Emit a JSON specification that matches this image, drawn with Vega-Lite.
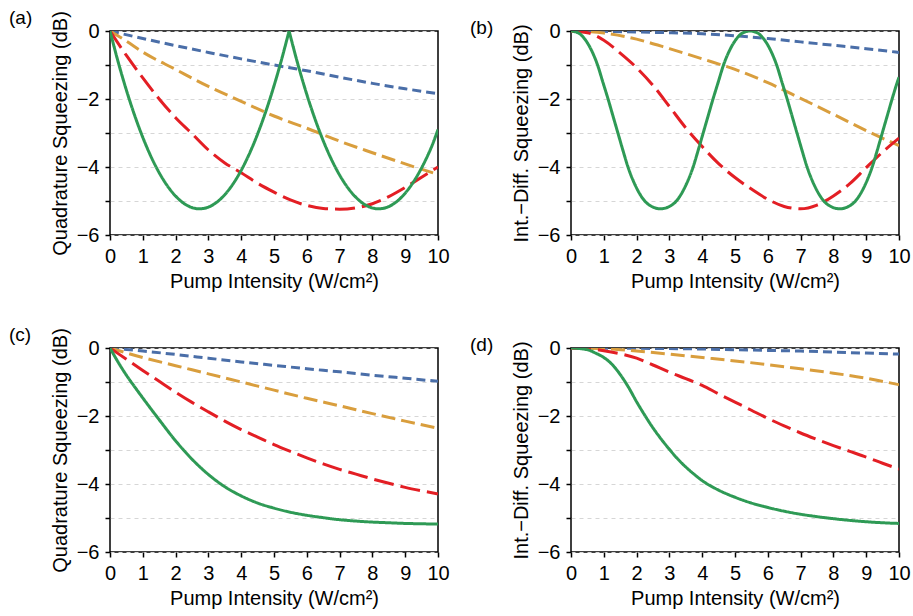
{
"$schema": "https://vega.github.io/schema/vega-lite/v6.json",
"padding": {"left": 8, "top": 7, "right": 2, "bottom": 2},
"columns": 2,
"spacing": {"row": 113, "column": 133},
"bounds": "flush",
"data": {"values": [
{"panel":"a","series":1,"x":0,"y":0},{"panel":"a","series":1,"x":1,"y":-0.22},{"panel":"a","series":1,"x":2,"y":-0.43},{"panel":"a","series":1,"x":3,"y":-0.63},{"panel":"a","series":1,"x":4,"y":-0.82},{"panel":"a","series":1,"x":5,"y":-1.0},{"panel":"a","series":1,"x":6,"y":-1.17},{"panel":"a","series":1,"x":7,"y":-1.36},{"panel":"a","series":1,"x":8,"y":-1.54},{"panel":"a","series":1,"x":9,"y":-1.7},{"panel":"a","series":1,"x":10,"y":-1.84},
{"panel":"a","series":2,"x":0,"y":0},{"panel":"a","series":2,"x":0.5,"y":-0.3},{"panel":"a","series":2,"x":1,"y":-0.62},{"panel":"a","series":2,"x":2,"y":-1.13},{"panel":"a","series":2,"x":3,"y":-1.63},{"panel":"a","series":2,"x":4,"y":-2.07},{"panel":"a","series":2,"x":5,"y":-2.5},{"panel":"a","series":2,"x":6,"y":-2.86},{"panel":"a","series":2,"x":7,"y":-3.24},{"panel":"a","series":2,"x":8,"y":-3.58},{"panel":"a","series":2,"x":9,"y":-3.91},{"panel":"a","series":2,"x":10,"y":-4.22},
{"panel":"a","series":3,"x":0,"y":0},{"panel":"a","series":3,"x":0.5,"y":-0.72},{"panel":"a","series":3,"x":1,"y":-1.38},{"panel":"a","series":3,"x":1.5,"y":-2.0},{"panel":"a","series":3,"x":2,"y":-2.55},{"panel":"a","series":3,"x":2.5,"y":-3.02},{"panel":"a","series":3,"x":3,"y":-3.5},{"panel":"a","series":3,"x":3.5,"y":-3.88},{"panel":"a","series":3,"x":4,"y":-4.17},{"panel":"a","series":3,"x":4.5,"y":-4.48},{"panel":"a","series":3,"x":5,"y":-4.74},{"panel":"a","series":3,"x":5.5,"y":-4.97},{"panel":"a","series":3,"x":6,"y":-5.13},{"panel":"a","series":3,"x":6.5,"y":-5.22},{"panel":"a","series":3,"x":7,"y":-5.24},{"panel":"a","series":3,"x":7.5,"y":-5.2},{"panel":"a","series":3,"x":8,"y":-5.08},{"panel":"a","series":3,"x":8.5,"y":-4.87},{"panel":"a","series":3,"x":9,"y":-4.6},{"panel":"a","series":3,"x":9.5,"y":-4.3},{"panel":"a","series":3,"x":10,"y":-4.0},
{"panel":"a","series":4,"x":0,"y":0},{"panel":"a","series":4,"x":0.273,"y":-0.994},{"panel":"a","series":4,"x":0.546,"y":-1.883},{"panel":"a","series":4,"x":0.819,"y":-2.667},{"panel":"a","series":4,"x":1.092,"y":-3.347},{"panel":"a","series":4,"x":1.365,"y":-3.923},{"panel":"a","series":4,"x":1.638,"y":-4.393},{"panel":"a","series":4,"x":1.911,"y":-4.759},{"panel":"a","series":4,"x":2.184,"y":-5.021},{"panel":"a","series":4,"x":2.457,"y":-5.178},{"panel":"a","series":4,"x":2.73,"y":-5.23},{"panel":"a","series":4,"x":3.003,"y":-5.178},{"panel":"a","series":4,"x":3.276,"y":-5.021},{"panel":"a","series":4,"x":3.549,"y":-4.759},{"panel":"a","series":4,"x":3.822,"y":-4.393},{"panel":"a","series":4,"x":4.095,"y":-3.923},{"panel":"a","series":4,"x":4.368,"y":-3.347},{"panel":"a","series":4,"x":4.641,"y":-2.667},{"panel":"a","series":4,"x":4.914,"y":-1.883},{"panel":"a","series":4,"x":5.187,"y":-0.994},{"panel":"a","series":4,"x":5.46,"y":0},
{"panel":"a","series":5,"x":5.46,"y":0},{"panel":"a","series":5,"x":5.733,"y":-0.994},{"panel":"a","series":5,"x":6.006,"y":-1.883},{"panel":"a","series":5,"x":6.279,"y":-2.667},{"panel":"a","series":5,"x":6.552,"y":-3.347},{"panel":"a","series":5,"x":6.825,"y":-3.923},{"panel":"a","series":5,"x":7.098,"y":-4.393},{"panel":"a","series":5,"x":7.371,"y":-4.759},{"panel":"a","series":5,"x":7.644,"y":-5.021},{"panel":"a","series":5,"x":7.917,"y":-5.178},{"panel":"a","series":5,"x":8.19,"y":-5.23},{"panel":"a","series":5,"x":8.463,"y":-5.178},{"panel":"a","series":5,"x":8.736,"y":-5.021},{"panel":"a","series":5,"x":9.009,"y":-4.759},{"panel":"a","series":5,"x":9.282,"y":-4.393},{"panel":"a","series":5,"x":9.555,"y":-3.923},{"panel":"a","series":5,"x":9.828,"y":-3.347},{"panel":"a","series":5,"x":10,"y":-2.9},
{"panel":"b","series":1,"x":0,"y":0},{"panel":"b","series":1,"x":1,"y":-0.01},{"panel":"b","series":1,"x":2,"y":-0.03},{"panel":"b","series":1,"x":3,"y":-0.05},{"panel":"b","series":1,"x":4,"y":-0.08},{"panel":"b","series":1,"x":5,"y":-0.14},{"panel":"b","series":1,"x":6,"y":-0.22},{"panel":"b","series":1,"x":7,"y":-0.32},{"panel":"b","series":1,"x":8,"y":-0.42},{"panel":"b","series":1,"x":9,"y":-0.52},{"panel":"b","series":1,"x":10,"y":-0.63},
{"panel":"b","series":2,"x":0,"y":0},{"panel":"b","series":2,"x":1,"y":-0.06},{"panel":"b","series":2,"x":2,"y":-0.24},{"panel":"b","series":2,"x":3,"y":-0.52},{"panel":"b","series":2,"x":4,"y":-0.82},{"panel":"b","series":2,"x":5,"y":-1.13},{"panel":"b","series":2,"x":6,"y":-1.52},{"panel":"b","series":2,"x":7,"y":-1.98},{"panel":"b","series":2,"x":8,"y":-2.45},{"panel":"b","series":2,"x":9,"y":-2.93},{"panel":"b","series":2,"x":10,"y":-3.37},
{"panel":"b","series":3,"x":0,"y":0},{"panel":"b","series":3,"x":0.5,"y":-0.05},{"panel":"b","series":3,"x":1,"y":-0.27},{"panel":"b","series":3,"x":1.5,"y":-0.65},{"panel":"b","series":3,"x":2,"y":-1.08},{"panel":"b","series":3,"x":2.5,"y":-1.6},{"panel":"b","series":3,"x":3,"y":-2.22},{"panel":"b","series":3,"x":3.5,"y":-2.85},{"panel":"b","series":3,"x":4,"y":-3.4},{"panel":"b","series":3,"x":4.5,"y":-3.9},{"panel":"b","series":3,"x":5,"y":-4.31},{"panel":"b","series":3,"x":5.5,"y":-4.65},{"panel":"b","series":3,"x":6,"y":-4.95},{"panel":"b","series":3,"x":6.5,"y":-5.16},{"panel":"b","series":3,"x":7,"y":-5.23},{"panel":"b","series":3,"x":7.5,"y":-5.12},{"panel":"b","series":3,"x":8,"y":-4.85},{"panel":"b","series":3,"x":8.5,"y":-4.49},{"panel":"b","series":3,"x":9,"y":-4.02},{"panel":"b","series":3,"x":9.5,"y":-3.56},{"panel":"b","series":3,"x":10,"y":-3.15},
{"panel":"b","series":4,"x":0,"y":0},{"panel":"b","series":4,"x":0.23,"y":-0.06},{"panel":"b","series":4,"x":0.43,"y":-0.25},{"panel":"b","series":4,"x":0.63,"y":-0.58},{"panel":"b","series":4,"x":0.81,"y":-1.0},{"panel":"b","series":4,"x":0.97,"y":-1.5},{"panel":"b","series":4,"x":1.13,"y":-2.0},{"panel":"b","series":4,"x":1.28,"y":-2.5},{"panel":"b","series":4,"x":1.43,"y":-3.0},{"panel":"b","series":4,"x":1.58,"y":-3.5},{"panel":"b","series":4,"x":1.73,"y":-3.98},{"panel":"b","series":4,"x":1.98,"y":-4.58},{"panel":"b","series":4,"x":2.23,"y":-4.98},{"panel":"b","series":4,"x":2.48,"y":-5.17},{"panel":"b","series":4,"x":2.73,"y":-5.23},{"panel":"b","series":4,"x":2.98,"y":-5.17},{"panel":"b","series":4,"x":3.23,"y":-4.98},{"panel":"b","series":4,"x":3.48,"y":-4.58},{"panel":"b","series":4,"x":3.73,"y":-3.98},{"panel":"b","series":4,"x":3.88,"y":-3.5},{"panel":"b","series":4,"x":4.03,"y":-3.0},{"panel":"b","series":4,"x":4.18,"y":-2.5},{"panel":"b","series":4,"x":4.33,"y":-2.0},{"panel":"b","series":4,"x":4.49,"y":-1.5},{"panel":"b","series":4,"x":4.65,"y":-1.0},{"panel":"b","series":4,"x":4.83,"y":-0.58},{"panel":"b","series":4,"x":5.03,"y":-0.25},{"panel":"b","series":4,"x":5.23,"y":-0.06},{"panel":"b","series":4,"x":5.46,"y":0},{"panel":"b","series":4,"x":5.69,"y":-0.06},{"panel":"b","series":4,"x":5.89,"y":-0.25},{"panel":"b","series":4,"x":6.09,"y":-0.58},{"panel":"b","series":4,"x":6.27,"y":-1.0},{"panel":"b","series":4,"x":6.43,"y":-1.5},{"panel":"b","series":4,"x":6.59,"y":-2.0},{"panel":"b","series":4,"x":6.74,"y":-2.5},{"panel":"b","series":4,"x":6.89,"y":-3.0},{"panel":"b","series":4,"x":7.04,"y":-3.5},{"panel":"b","series":4,"x":7.19,"y":-3.98},{"panel":"b","series":4,"x":7.44,"y":-4.58},{"panel":"b","series":4,"x":7.69,"y":-4.98},{"panel":"b","series":4,"x":7.94,"y":-5.17},{"panel":"b","series":4,"x":8.19,"y":-5.23},{"panel":"b","series":4,"x":8.44,"y":-5.17},{"panel":"b","series":4,"x":8.69,"y":-4.98},{"panel":"b","series":4,"x":8.94,"y":-4.58},{"panel":"b","series":4,"x":9.19,"y":-3.98},{"panel":"b","series":4,"x":9.34,"y":-3.5},{"panel":"b","series":4,"x":9.49,"y":-3.0},{"panel":"b","series":4,"x":9.64,"y":-2.5},{"panel":"b","series":4,"x":9.79,"y":-2.0},{"panel":"b","series":4,"x":9.95,"y":-1.5},{"panel":"b","series":4,"x":10,"y":-1.36},
{"panel":"c","series":1,"x":0,"y":0},{"panel":"c","series":1,"x":1,"y":-0.09},{"panel":"c","series":1,"x":2,"y":-0.19},{"panel":"c","series":1,"x":3,"y":-0.3},{"panel":"c","series":1,"x":4,"y":-0.41},{"panel":"c","series":1,"x":5,"y":-0.51},{"panel":"c","series":1,"x":6,"y":-0.61},{"panel":"c","series":1,"x":7,"y":-0.7},{"panel":"c","series":1,"x":8,"y":-0.8},{"panel":"c","series":1,"x":9,"y":-0.89},{"panel":"c","series":1,"x":10,"y":-0.98},
{"panel":"c","series":2,"x":0,"y":0},{"panel":"c","series":2,"x":1,"y":-0.28},{"panel":"c","series":2,"x":2,"y":-0.52},{"panel":"c","series":2,"x":3,"y":-0.76},{"panel":"c","series":2,"x":4,"y":-1.0},{"panel":"c","series":2,"x":5,"y":-1.24},{"panel":"c","series":2,"x":6,"y":-1.48},{"panel":"c","series":2,"x":7,"y":-1.7},{"panel":"c","series":2,"x":8,"y":-1.93},{"panel":"c","series":2,"x":9,"y":-2.15},{"panel":"c","series":2,"x":10,"y":-2.36},
{"panel":"c","series":3,"x":0,"y":0},{"panel":"c","series":3,"x":0.5,"y":-0.33},{"panel":"c","series":3,"x":1,"y":-0.66},{"panel":"c","series":3,"x":1.5,"y":-0.98},{"panel":"c","series":3,"x":2,"y":-1.3},{"panel":"c","series":3,"x":2.5,"y":-1.6},{"panel":"c","series":3,"x":3,"y":-1.88},{"panel":"c","series":3,"x":3.5,"y":-2.15},{"panel":"c","series":3,"x":4,"y":-2.4},{"panel":"c","series":3,"x":4.5,"y":-2.62},{"panel":"c","series":3,"x":5,"y":-2.84},{"panel":"c","series":3,"x":5.5,"y":-3.04},{"panel":"c","series":3,"x":6,"y":-3.23},{"panel":"c","series":3,"x":6.5,"y":-3.41},{"panel":"c","series":3,"x":7,"y":-3.57},{"panel":"c","series":3,"x":7.5,"y":-3.71},{"panel":"c","series":3,"x":8,"y":-3.85},{"panel":"c","series":3,"x":8.5,"y":-3.98},{"panel":"c","series":3,"x":9,"y":-4.1},{"panel":"c","series":3,"x":9.5,"y":-4.2},{"panel":"c","series":3,"x":10,"y":-4.29},
{"panel":"c","series":4,"x":0,"y":0},{"panel":"c","series":4,"x":0.25,"y":-0.42},{"panel":"c","series":4,"x":0.5,"y":-0.8},{"panel":"c","series":4,"x":0.75,"y":-1.14},{"panel":"c","series":4,"x":1,"y":-1.47},{"panel":"c","series":4,"x":1.5,"y":-2.11},{"panel":"c","series":4,"x":2,"y":-2.73},{"panel":"c","series":4,"x":2.5,"y":-3.27},{"panel":"c","series":4,"x":3,"y":-3.72},{"panel":"c","series":4,"x":3.5,"y":-4.08},{"panel":"c","series":4,"x":4,"y":-4.35},{"panel":"c","series":4,"x":4.5,"y":-4.56},{"panel":"c","series":4,"x":5,"y":-4.71},{"panel":"c","series":4,"x":5.5,"y":-4.83},{"panel":"c","series":4,"x":6,"y":-4.92},{"panel":"c","series":4,"x":6.5,"y":-4.99},{"panel":"c","series":4,"x":7,"y":-5.05},{"panel":"c","series":4,"x":7.5,"y":-5.09},{"panel":"c","series":4,"x":8,"y":-5.12},{"panel":"c","series":4,"x":8.5,"y":-5.14},{"panel":"c","series":4,"x":9,"y":-5.16},{"panel":"c","series":4,"x":9.5,"y":-5.17},{"panel":"c","series":4,"x":10,"y":-5.18},
{"panel":"d","series":1,"x":0,"y":0},{"panel":"d","series":1,"x":2,"y":-0.01},{"panel":"d","series":1,"x":4,"y":-0.03},{"panel":"d","series":1,"x":5,"y":-0.05},{"panel":"d","series":1,"x":6,"y":-0.07},{"panel":"d","series":1,"x":7,"y":-0.09},{"panel":"d","series":1,"x":8,"y":-0.12},{"panel":"d","series":1,"x":9,"y":-0.15},{"panel":"d","series":1,"x":10,"y":-0.18},
{"panel":"d","series":2,"x":0,"y":0},{"panel":"d","series":2,"x":1,"y":-0.02},{"panel":"d","series":2,"x":2,"y":-0.09},{"panel":"d","series":2,"x":3,"y":-0.18},{"panel":"d","series":2,"x":4,"y":-0.28},{"panel":"d","series":2,"x":5,"y":-0.38},{"panel":"d","series":2,"x":6,"y":-0.49},{"panel":"d","series":2,"x":7,"y":-0.61},{"panel":"d","series":2,"x":8,"y":-0.74},{"panel":"d","series":2,"x":9,"y":-0.89},{"panel":"d","series":2,"x":10,"y":-1.08},
{"panel":"d","series":3,"x":0,"y":0},{"panel":"d","series":3,"x":0.5,"y":-0.02},{"panel":"d","series":3,"x":1,"y":-0.08},{"panel":"d","series":3,"x":1.5,"y":-0.17},{"panel":"d","series":3,"x":2,"y":-0.3},{"panel":"d","series":3,"x":2.5,"y":-0.5},{"panel":"d","series":3,"x":3,"y":-0.71},{"panel":"d","series":3,"x":3.5,"y":-0.9},{"panel":"d","series":3,"x":4,"y":-1.1},{"panel":"d","series":3,"x":4.5,"y":-1.35},{"panel":"d","series":3,"x":5,"y":-1.59},{"panel":"d","series":3,"x":5.5,"y":-1.83},{"panel":"d","series":3,"x":6,"y":-2.07},{"panel":"d","series":3,"x":6.5,"y":-2.29},{"panel":"d","series":3,"x":7,"y":-2.5},{"panel":"d","series":3,"x":7.5,"y":-2.69},{"panel":"d","series":3,"x":8,"y":-2.87},{"panel":"d","series":3,"x":8.5,"y":-3.04},{"panel":"d","series":3,"x":9,"y":-3.21},{"panel":"d","series":3,"x":9.5,"y":-3.39},{"panel":"d","series":3,"x":10,"y":-3.56},
{"panel":"d","series":4,"x":0,"y":0},{"panel":"d","series":4,"x":0.5,"y":-0.05},{"panel":"d","series":4,"x":0.75,"y":-0.15},{"panel":"d","series":4,"x":1,"y":-0.28},{"panel":"d","series":4,"x":1.25,"y":-0.48},{"panel":"d","series":4,"x":1.5,"y":-0.78},{"panel":"d","series":4,"x":1.75,"y":-1.15},{"panel":"d","series":4,"x":2,"y":-1.58},{"panel":"d","series":4,"x":2.25,"y":-1.98},{"panel":"d","series":4,"x":2.5,"y":-2.35},{"panel":"d","series":4,"x":2.75,"y":-2.68},{"panel":"d","series":4,"x":3,"y":-2.98},{"panel":"d","series":4,"x":3.25,"y":-3.26},{"panel":"d","series":4,"x":3.5,"y":-3.5},{"panel":"d","series":4,"x":3.75,"y":-3.71},{"panel":"d","series":4,"x":4,"y":-3.9},{"panel":"d","series":4,"x":4.5,"y":-4.18},{"panel":"d","series":4,"x":5,"y":-4.39},{"panel":"d","series":4,"x":5.5,"y":-4.56},{"panel":"d","series":4,"x":6,"y":-4.69},{"panel":"d","series":4,"x":6.5,"y":-4.8},{"panel":"d","series":4,"x":7,"y":-4.89},{"panel":"d","series":4,"x":7.5,"y":-4.96},{"panel":"d","series":4,"x":8,"y":-5.02},{"panel":"d","series":4,"x":8.5,"y":-5.07},{"panel":"d","series":4,"x":9,"y":-5.11},{"panel":"d","series":4,"x":9.5,"y":-5.14},{"panel":"d","series":4,"x":10,"y":-5.16}
]},
"concat": [
{"width": 328, "height": 204,
 "title": {"text": "(a)", "dx": -101},
 "transform": [{"filter": "datum.panel === 'a'"}],
 "mark": {"type": "line", "interpolate": "monotone", "strokeWidth": 3, "clip": true},
 "encoding": {
  "x": {"field": "x", "type": "quantitative", "scale": {"domain": [0, 10], "nice": false}, "axis": {"values": [0,1,2,3,4,5,6,7,8,9,10], "title": "Pump Intensity (W/cm²)", "grid": false, "labelFlush": false}},
  "y": {"field": "y", "type": "quantitative", "scale": {"domain": [-6, 0], "nice": false}, "axis": {"values": [-6,-5,-4,-3,-2,-1,0], "labelExpr": "datum.value % 2 === 0 ? datum.label : ''", "title": "Quadrature Squeezing (dB)"}},
  "color": {"field": "series", "type": "nominal", "scale": {"domain": [1,2,3,4,5], "range": ["#4a6ea8","#d99e3d","#e31e24","#2e9a55","#2e9a55"]}, "legend": null},
  "strokeDash": {"field": "series", "type": "nominal", "scale": {"domain": [1,2,3,4,5], "range": [[9,5],[14,6],[20,7],[1,0],[1,0]]}, "legend": null}
 }},
{"width": 328, "height": 204,
 "title": {"text": "(b)", "dx": -101},
 "transform": [{"filter": "datum.panel === 'b'"}],
 "mark": {"type": "line", "interpolate": "monotone", "strokeWidth": 3, "clip": true},
 "encoding": {
  "x": {"field": "x", "type": "quantitative", "scale": {"domain": [0, 10], "nice": false}, "axis": {"values": [0,1,2,3,4,5,6,7,8,9,10], "title": "Pump Intensity (W/cm²)", "grid": false, "labelFlush": false}},
  "y": {"field": "y", "type": "quantitative", "scale": {"domain": [-6, 0], "nice": false}, "axis": {"values": [-6,-5,-4,-3,-2,-1,0], "labelExpr": "datum.value % 2 === 0 ? datum.label : ''", "title": "Int.−Diff. Squeezing (dB)"}},
  "color": {"field": "series", "type": "nominal", "scale": {"domain": [1,2,3,4,5], "range": ["#4a6ea8","#d99e3d","#e31e24","#2e9a55","#2e9a55"]}, "legend": null},
  "strokeDash": {"field": "series", "type": "nominal", "scale": {"domain": [1,2,3,4,5], "range": [[9,5],[14,6],[20,7],[1,0],[1,0]]}, "legend": null}
 }},
{"width": 328, "height": 204,
 "title": {"text": "(c)", "dx": -101},
 "transform": [{"filter": "datum.panel === 'c'"}],
 "mark": {"type": "line", "interpolate": "monotone", "strokeWidth": 3, "clip": true},
 "encoding": {
  "x": {"field": "x", "type": "quantitative", "scale": {"domain": [0, 10], "nice": false}, "axis": {"values": [0,1,2,3,4,5,6,7,8,9,10], "title": "Pump Intensity (W/cm²)", "grid": false, "labelFlush": false}},
  "y": {"field": "y", "type": "quantitative", "scale": {"domain": [-6, 0], "nice": false}, "axis": {"values": [-6,-5,-4,-3,-2,-1,0], "labelExpr": "datum.value % 2 === 0 ? datum.label : ''", "title": "Quadrature Squeezing (dB)"}},
  "color": {"field": "series", "type": "nominal", "scale": {"domain": [1,2,3,4,5], "range": ["#4a6ea8","#d99e3d","#e31e24","#2e9a55","#2e9a55"]}, "legend": null},
  "strokeDash": {"field": "series", "type": "nominal", "scale": {"domain": [1,2,3,4,5], "range": [[9,5],[14,6],[20,7],[1,0],[1,0]]}, "legend": null}
 }},
{"width": 328, "height": 204,
 "title": {"text": "(d)", "dx": -101},
 "transform": [{"filter": "datum.panel === 'd'"}],
 "mark": {"type": "line", "interpolate": "monotone", "strokeWidth": 3, "clip": true},
 "encoding": {
  "x": {"field": "x", "type": "quantitative", "scale": {"domain": [0, 10], "nice": false}, "axis": {"values": [0,1,2,3,4,5,6,7,8,9,10], "title": "Pump Intensity (W/cm²)", "grid": false, "labelFlush": false}},
  "y": {"field": "y", "type": "quantitative", "scale": {"domain": [-6, 0], "nice": false}, "axis": {"values": [-6,-5,-4,-3,-2,-1,0], "labelExpr": "datum.value % 2 === 0 ? datum.label : ''", "title": "Int.−Diff. Squeezing (dB)"}},
  "color": {"field": "series", "type": "nominal", "scale": {"domain": [1,2,3,4,5], "range": ["#4a6ea8","#d99e3d","#e31e24","#2e9a55","#2e9a55"]}, "legend": null},
  "strokeDash": {"field": "series", "type": "nominal", "scale": {"domain": [1,2,3,4,5], "range": [[9,5],[14,6],[20,7],[1,0],[1,0]]}, "legend": null}
 }}
],
"config": {
 "background": "white",
 "font": "Liberation Sans",
 "view": {"stroke": "black", "strokeWidth": 1.5},
 "axis": {"labelFont": "Liberation Sans", "labelFontSize": 20, "labelColor": "black", "labelOverlap": false, "titleFont": "Liberation Sans", "titleFontSize": 20, "titleFontWeight": "normal", "titleColor": "black", "tickColor": "black", "tickSize": 5, "tickWidth": 1.5, "domain": false, "gridColor": "#d6d6d6", "gridDash": [4, 4], "gridWidth": 1},
 "axisX": {"labelPadding": 6, "titlePadding": 5},
 "axisY": {"labelPadding": 6, "titlePadding": 6},
 "title": {"anchor": "start", "frame": "group", "font": "Liberation Sans", "fontSize": 19, "fontWeight": "normal", "color": "black", "offset": -17}
}
}
